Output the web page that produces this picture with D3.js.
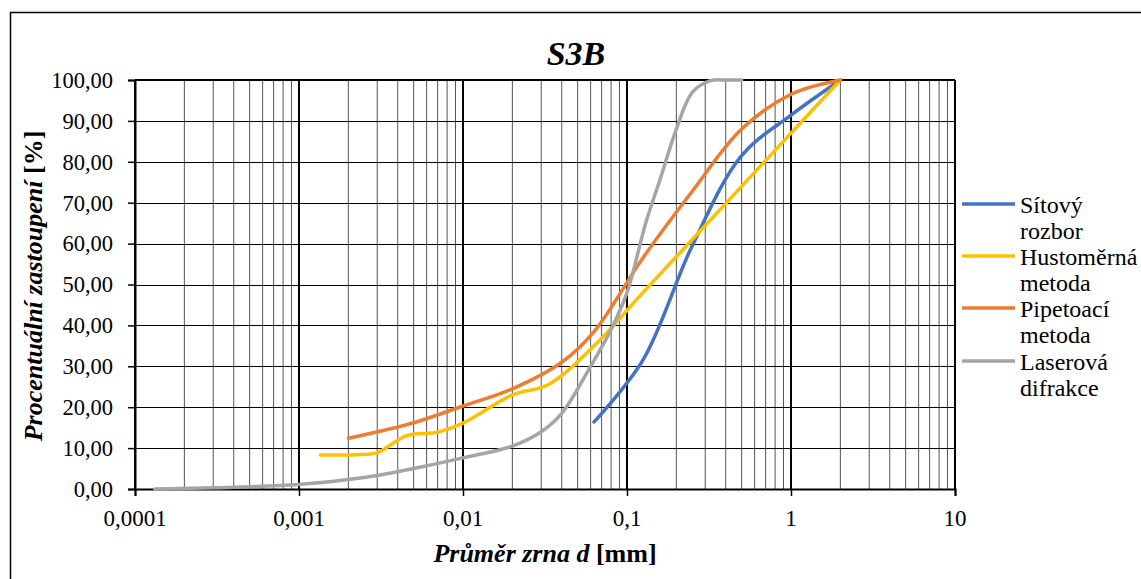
<!DOCTYPE html>
<html><head><meta charset="utf-8">
<script src="https://cdn.jsdelivr.net/npm/d3@7"></script>
</head><body style="margin:0;background:#fff">
<script>
// ---- data ----
const title = "S3B";
const xTickValues = [0.0001, 0.001, 0.01, 0.1, 1, 10];
const xTickLabels = ["0,0001", "0,001", "0,01", "0,1", "1", "10"];
const yTickValues = [0,10,20,30,40,50,60,70,80,90,100];
const seriesNames = ["Sítový rozbor", "Hustoměrná metoda", "Pipetoací metoda", "Laserová difrakce"];
const seriesColors = ["#4472C4", "#FFC000", "#ED7D31", "#A5A5A5"];

const sitD = [0.063, 0.125, 0.25, 0.5, 1, 2];
const sitV = [16.4, 31.5, 59.5, 81.5, 91.4, 100];

const husD = [0.00135, 0.0022, 0.003, 0.0045, 0.007, 0.01, 0.02, 0.033, 0.063, 0.125, 0.25, 0.5, 1, 2];
const husV = [8.3, 8.4, 8.9, 13.0, 13.9, 16.1, 23.0, 25.5, 35.0, 48.0, 61.0, 74.0, 87.0, 100];

const pipD = [0.002, 0.005, 0.01, 0.02, 0.04, 0.063, 0.125, 0.25, 0.5, 1, 2];
const pipV = [12.4, 16.2, 20.3, 24.5, 31.0, 38.5, 56.5, 72.8, 88.0, 96.5, 100];

const lasD = [0.000132, 0.0003, 0.001, 0.002, 0.003, 0.005, 0.01, 0.02, 0.03, 0.04, 0.06, 0.08, 0.1, 0.13, 0.16, 0.2, 0.25, 0.32, 0.4, 0.5];
const lasV = [0, 0.3, 1.1, 2.3, 3.3, 5.0, 7.6, 10.5, 14.0, 18.5, 30.0, 39.0, 48.0, 65.0, 76.0, 88.0, 97.0, 99.8, 100, 100];

const seriesD = [sitD, husD, pipD, lasD];
const seriesV = [sitV, husV, pipV, lasV];

// ---- chart ----
const fams = ["Liberation Serif"];
const W = 1141, H = 579;
const svg = d3.select("body").append("svg").attr("width", W).attr("height", H).style("display", "block");
function serif(sel) { return sel.style("font-family", `"${fams[0]}", "Times New Roman", serif`); }

svg.append("rect").attr("x",10.5).attr("y",12.5).attr("width",W).attr("height",H).attr("fill","#fff").attr("stroke","#000").attr("stroke-width",1.5);

const x = d3.scaleLog().domain([1e-4, 10]).range([135, 955]);
const y = d3.scaleLinear().domain([0, 100]).range([489, 80]);

// minor vertical grid
const minor = [];
for (let e = -4; e < 1; e++) for (let k = 2; k <= 9; k++) minor.push(k * Math.pow(10, e));
svg.append("g").selectAll("line").data(minor).join("line")
  .attr("x1", d => x(d)).attr("x2", d => x(d)).attr("y1", y(0)).attr("y2", y(100))
  .attr("stroke", "#555").attr("stroke-width", 1);
// horizontal grid
svg.append("g").selectAll("line").data(yTickValues).join("line")
  .attr("x1", x(1e-4)).attr("x2", x(10)).attr("y1", d => Math.round(y(d))+0.5).attr("y2", d => Math.round(y(d))+0.5)
  .attr("stroke", "#000").attr("stroke-width", 1);
// major vertical
svg.append("g").selectAll("line").data(xTickValues).join("line")
  .attr("x1", d => x(d)).attr("x2", d => x(d)).attr("y1", y(0)).attr("y2", y(100))
  .attr("stroke", "#000").attr("stroke-width", 2);
svg.append("line").attr("x1", x(1e-4)).attr("x2", x(10)).attr("y1", y(100)).attr("y2", y(100)).attr("stroke","#000").attr("stroke-width",2);

// axes (ticks + domain from d3 axes, labels as separate text)
const yAxis = d3.axisLeft(y).tickValues(yTickValues).tickSize(7).tickFormat("");
const gy = svg.append("g").attr("transform", `translate(${x(1e-4)},0)`).call(yAxis);
gy.select(".domain").attr("stroke-width", 2);
gy.selectAll(".tick line").attr("stroke-width", 1.5);
yTickValues.forEach(v => {
  serif(svg.append("text")).attr("x", x(1e-4) - 22).attr("y", y(v)).attr("dy", "0.35em")
    .attr("text-anchor", "end").attr("font-size", 22.5).text(d3.format(".2f")(v).replace(".", ","));
});

const xAxis = d3.axisBottom(x).tickValues(xTickValues).tickSize(7).tickFormat("");
const gx = svg.append("g").attr("transform", `translate(0,${y(0)})`).call(xAxis);
gx.select(".domain").attr("stroke-width", 2);
gx.selectAll(".tick line").attr("stroke-width", 1.5);
xTickValues.forEach((v, i) => {
  serif(svg.append("text")).attr("x", x(v)).attr("y", y(0) + 37)
    .attr("text-anchor", "middle").attr("font-size", 23).text(xTickLabels[i]);
});

// series
const line = d3.line().curve(d3.curveCatmullRom.alpha(0.5));
seriesD.forEach((ds, i) => {
  const pts = ds.map((d, j) => [x(d), y(seriesV[i][j])]);
  svg.append("path").attr("d", line(pts)).attr("fill", "none")
    .attr("stroke", seriesColors[i]).attr("stroke-width", 3.5).attr("stroke-linecap", "round");
});

// title
serif(svg.append("text")).attr("x", 576).attr("y", 65).attr("text-anchor", "middle")
  .attr("font-size", 34).attr("font-weight", "bold").attr("font-style", "italic").text(title);

// axis titles
const yt = serif(svg.append("text")).attr("transform", "translate(42,286) rotate(-90)").attr("text-anchor", "middle")
  .attr("font-size", 26).attr("font-weight", "bold");
yt.append("tspan").attr("font-style", "italic").text("Procentuální zastoupení ");
yt.append("tspan").text("[%]");

const xt = serif(svg.append("text")).attr("x", 545).attr("y", 562).attr("text-anchor", "middle")
  .attr("font-size", 26).attr("font-weight", "bold");
xt.append("tspan").attr("font-style", "italic").text("Průměr zrna ");
xt.append("tspan").attr("font-style", "italic").text("d");
xt.append("tspan").text(" [mm]");

// legend
const legY = [204, 256, 308, 361];
seriesNames.forEach((name, i) => {
  svg.append("line").attr("x1", 962).attr("x2", 1015).attr("y1", legY[i]).attr("y2", legY[i])
    .attr("stroke", seriesColors[i]).attr("stroke-width", 3.5);
  const parts = name.split(" ");
  const t = serif(svg.append("text")).attr("x", 1020).attr("y", legY[i] + 9).attr("font-size", 24);
  parts.forEach((p, k) => t.append("tspan").attr("x", 1020).attr("dy", k === 0 ? 0 : 26).text(p));
});
</script>
</body></html>
